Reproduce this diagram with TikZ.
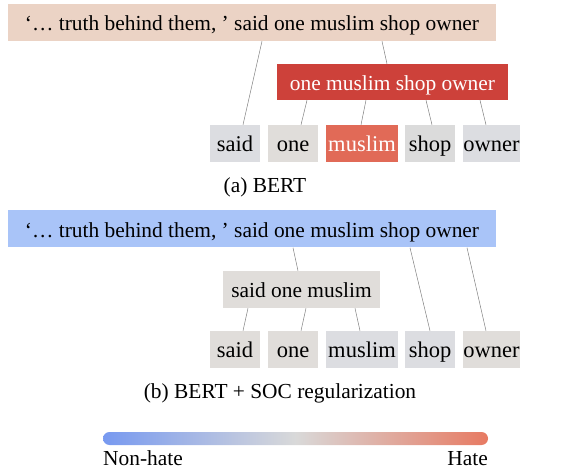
\documentclass[tikz,border=0pt]{standalone}
\usepackage{fontspec}
\setmainfont{Liberation Serif}
\definecolor{peach}{HTML}{EBD3C5}
\definecolor{hatered}{HTML}{CD413A}
\definecolor{lightred}{HTML}{E16A57}
\definecolor{nonblue}{HTML}{A9C4F8}
\definecolor{warmgray}{HTML}{E0DDDA}
\definecolor{coolgray}{HTML}{DCDDE1}
\definecolor{barblue}{HTML}{7799F0}
\definecolor{barred}{HTML}{E77A62}
\tikzset{
  box/.style={inner sep=0pt, minimum height=37pt, text height=20pt, text depth=3pt, font=\fontsize{21.4}{25}\selectfont},
  word/.style={box, font=\fontsize{22.5}{26}\selectfont},
  caption/.style={inner sep=0pt, font=\fontsize{21.4}{25}\selectfont},
  link/.style={draw=gray, line width=0.5pt}
}
\begin{document}
\begin{tikzpicture}[x=1pt, y=-1pt]
  \useasboundingbox (0,0) rectangle (584,470);
  % (a) BERT
  \node[box, fill=peach, minimum width=488pt] (topa) at (252,22.5) {‘… truth behind them, ’ said one muslim shop owner};
  \node[box, fill=hatered, text=white, minimum width=231pt, minimum height=36pt] (phrasea) at (392.5,82) {one muslim shop owner};
  \node[word, fill=coolgray, minimum width=50pt] (saida) at (235,143.5) {said};
  \node[word, fill=warmgray, minimum width=50pt] (onea) at (293,143.5) {one};
  \node[word, fill=lightred, text=white, minimum width=72pt] (muslima) at (362,143.5) {muslim};
  \node[word, fill=gray!28, minimum width=50pt] (shopa) at (430,143.5) {shop};
  \node[word, fill=coolgray, minimum width=57pt] (ownera) at (491.5,143.5) {owner};
  \draw[link] ([xshift=10pt]topa.south) -- ([xshift=8pt]saida.north);
  \draw[link] ([xshift=130pt]topa.south) -- ([xshift=-5.5pt]phrasea.north);
  \draw[link] ([xshift=-85.5pt]phrasea.south) -- ([xshift=8pt]onea.north);
  \draw[link] ([xshift=-26.5pt]phrasea.south) -- ([xshift=-1pt]muslima.north);
  \draw[link] ([xshift=33.5pt]phrasea.south) -- ([xshift=2pt]shopa.north);
  \draw[link] ([xshift=87.5pt]phrasea.south) -- ([xshift=-5.5pt]ownera.north);
  \node[caption, anchor=base] (capa) at (265,193) {(a) BERT};
  % (b) BERT + SOC
  \node[box, fill=nonblue, minimum width=488pt] (topb) at (252,229) {‘… truth behind them, ’ said one muslim shop owner};
  \node[box, fill=warmgray, minimum width=157pt] (phraseb) at (301.5,289.5) {said one muslim};
  \node[word, fill=warmgray, minimum width=50pt] (saidb) at (235,349.5) {said};
  \node[word, fill=warmgray, minimum width=50pt] (oneb) at (293,349.5) {one};
  \node[word, fill=coolgray, minimum width=72pt] (muslimb) at (362,349.5) {muslim};
  \node[word, fill=coolgray, minimum width=50pt] (shopb) at (430,349.5) {shop};
  \node[word, fill=warmgray, minimum width=57pt] (ownerb) at (491.5,349.5) {owner};
  \draw[link] ([xshift=41pt]topb.south) -- ([xshift=-3.5pt]phraseb.north);
  \draw[link] ([xshift=-53.5pt]phraseb.south) -- ([xshift=8pt]saidb.north);
  \draw[link] ([xshift=4.5pt]phraseb.south) -- ([xshift=8pt]oneb.north);
  \draw[link] ([xshift=53.5pt]phraseb.south) -- ([xshift=-2pt]muslimb.north);
  \draw[link] ([xshift=158pt]topb.south) -- (shopb.north);
  \draw[link] ([xshift=215pt]topb.south) -- ([xshift=-5.5pt]ownerb.north);
  \node[caption, anchor=base] (capb) at (280,399) {(b) BERT + SOC regularization};
  % colour bar
  \shade[left color=barblue, right color=barred, middle color=gray!30, rounded corners=6.5pt] (103,432) rectangle (488,445);
  \node[caption, anchor=base west] (nonhate) at (103,465) {Non-hate};
  \node[caption, anchor=base east] (hate) at (488,465) {Hate};
\end{tikzpicture}
\end{document}
